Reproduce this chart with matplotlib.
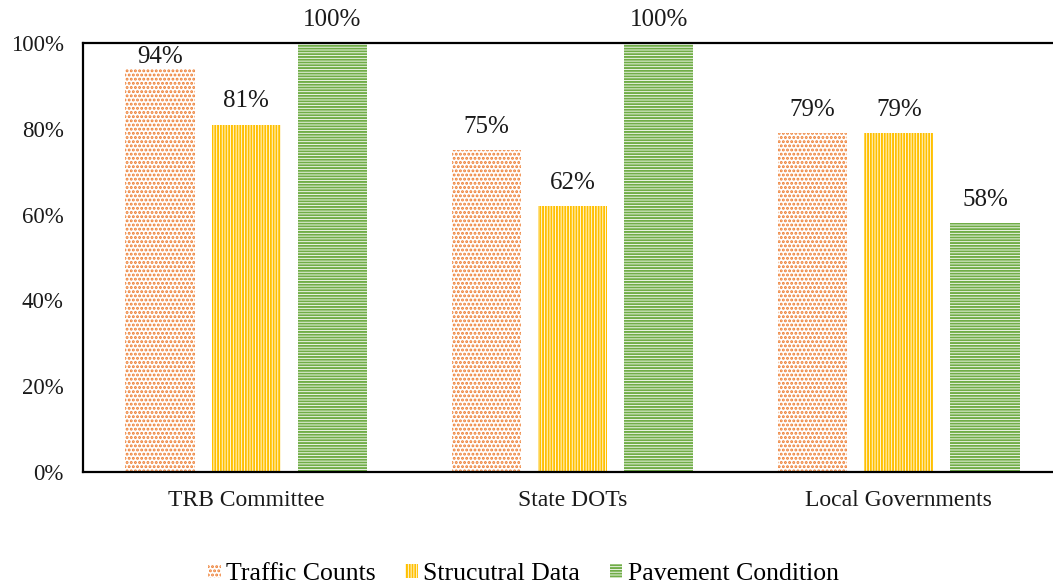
import matplotlib
matplotlib.use("Agg")
import matplotlib.pyplot as plt
import numpy as np

categories = ["TRB Committee", "State DOTs", "Local Governments"]
series_names = ["Traffic Counts", "Strucutral Data", "Pavement Condition"]
traffic_counts = [94, 75, 79]
structural_data = [81, 62, 79]
pavement_condition = [100, 100, 58]
y_ticks = [0, 20, 40, 60, 80, 100]

colors = ["#ED7D31", "#FFC000", "#70AD47"]
hatches = ["....", "||||||", "------"]

plt.rcParams['font.family'] = ['Liberation Serif', 'DejaVu Serif']
plt.rcParams['hatch.linewidth'] = 1.4

fig = plt.figure(figsize=(10.53, 5.85), dpi=100)
ax = fig.add_axes([83/1053, 1 - 472/585, (1062 - 83)/1053, (472 - 43)/585])

x = np.arange(len(categories))
width = 0.212
step = 0.264
all_series = [traffic_counts, structural_data, pavement_condition]
handles = []
for i, (vals, name) in enumerate(zip(all_series, series_names)):
    pos = x + (i - 1) * step
    bars = ax.bar(pos, vals, width, facecolor="white", edgecolor=colors[i],
                  hatch=hatches[i], linewidth=0, label=name, clip_on=False, zorder=2)
    handles.append(bars)
    for p, v in zip(pos, vals):
        if 90 < v < 100:
            ax.annotate(f"{v}%", xy=(p, 100), xytext=(0, -2), textcoords="offset points",
                        ha="center", va="top", fontsize=18, color="#1a1a1a",
                        annotation_clip=False)
        else:
            ax.annotate(f"{v}%", xy=(p, v), xytext=(0, 9), textcoords="offset points",
                        ha="center", va="bottom", fontsize=18, color="#1a1a1a",
                        annotation_clip=False)

ax.set_xlim(-0.5, 2.5)
ax.set_ylim(0, 100)
ax.set_yticks(y_ticks)
ax.set_yticklabels([f"{t}%" for t in y_ticks], fontsize=16.5, color="#1a1a1a")
ax.set_xticks(x)
ax.set_xticklabels(categories, fontsize=17, color="#1a1a1a")
ax.tick_params(axis="both", length=0)
ax.tick_params(axis="y", pad=14)
ax.tick_params(axis="x", pad=13)
for s in ["left", "top", "bottom"]:
    ax.spines[s].set_linewidth(1.6)
    ax.spines[s].set_color("black")
ax.spines["right"].set_visible(False)

fig.legend(handles=handles, labels=series_names, loc="lower center",
           bbox_to_anchor=(0.497, -0.04), ncol=3, frameon=False, fontsize=18.5,
           handlelength=0.5, handleheight=0.5, handletextpad=0.2, columnspacing=1.15)

fig.savefig("out.png", dpi=100)
